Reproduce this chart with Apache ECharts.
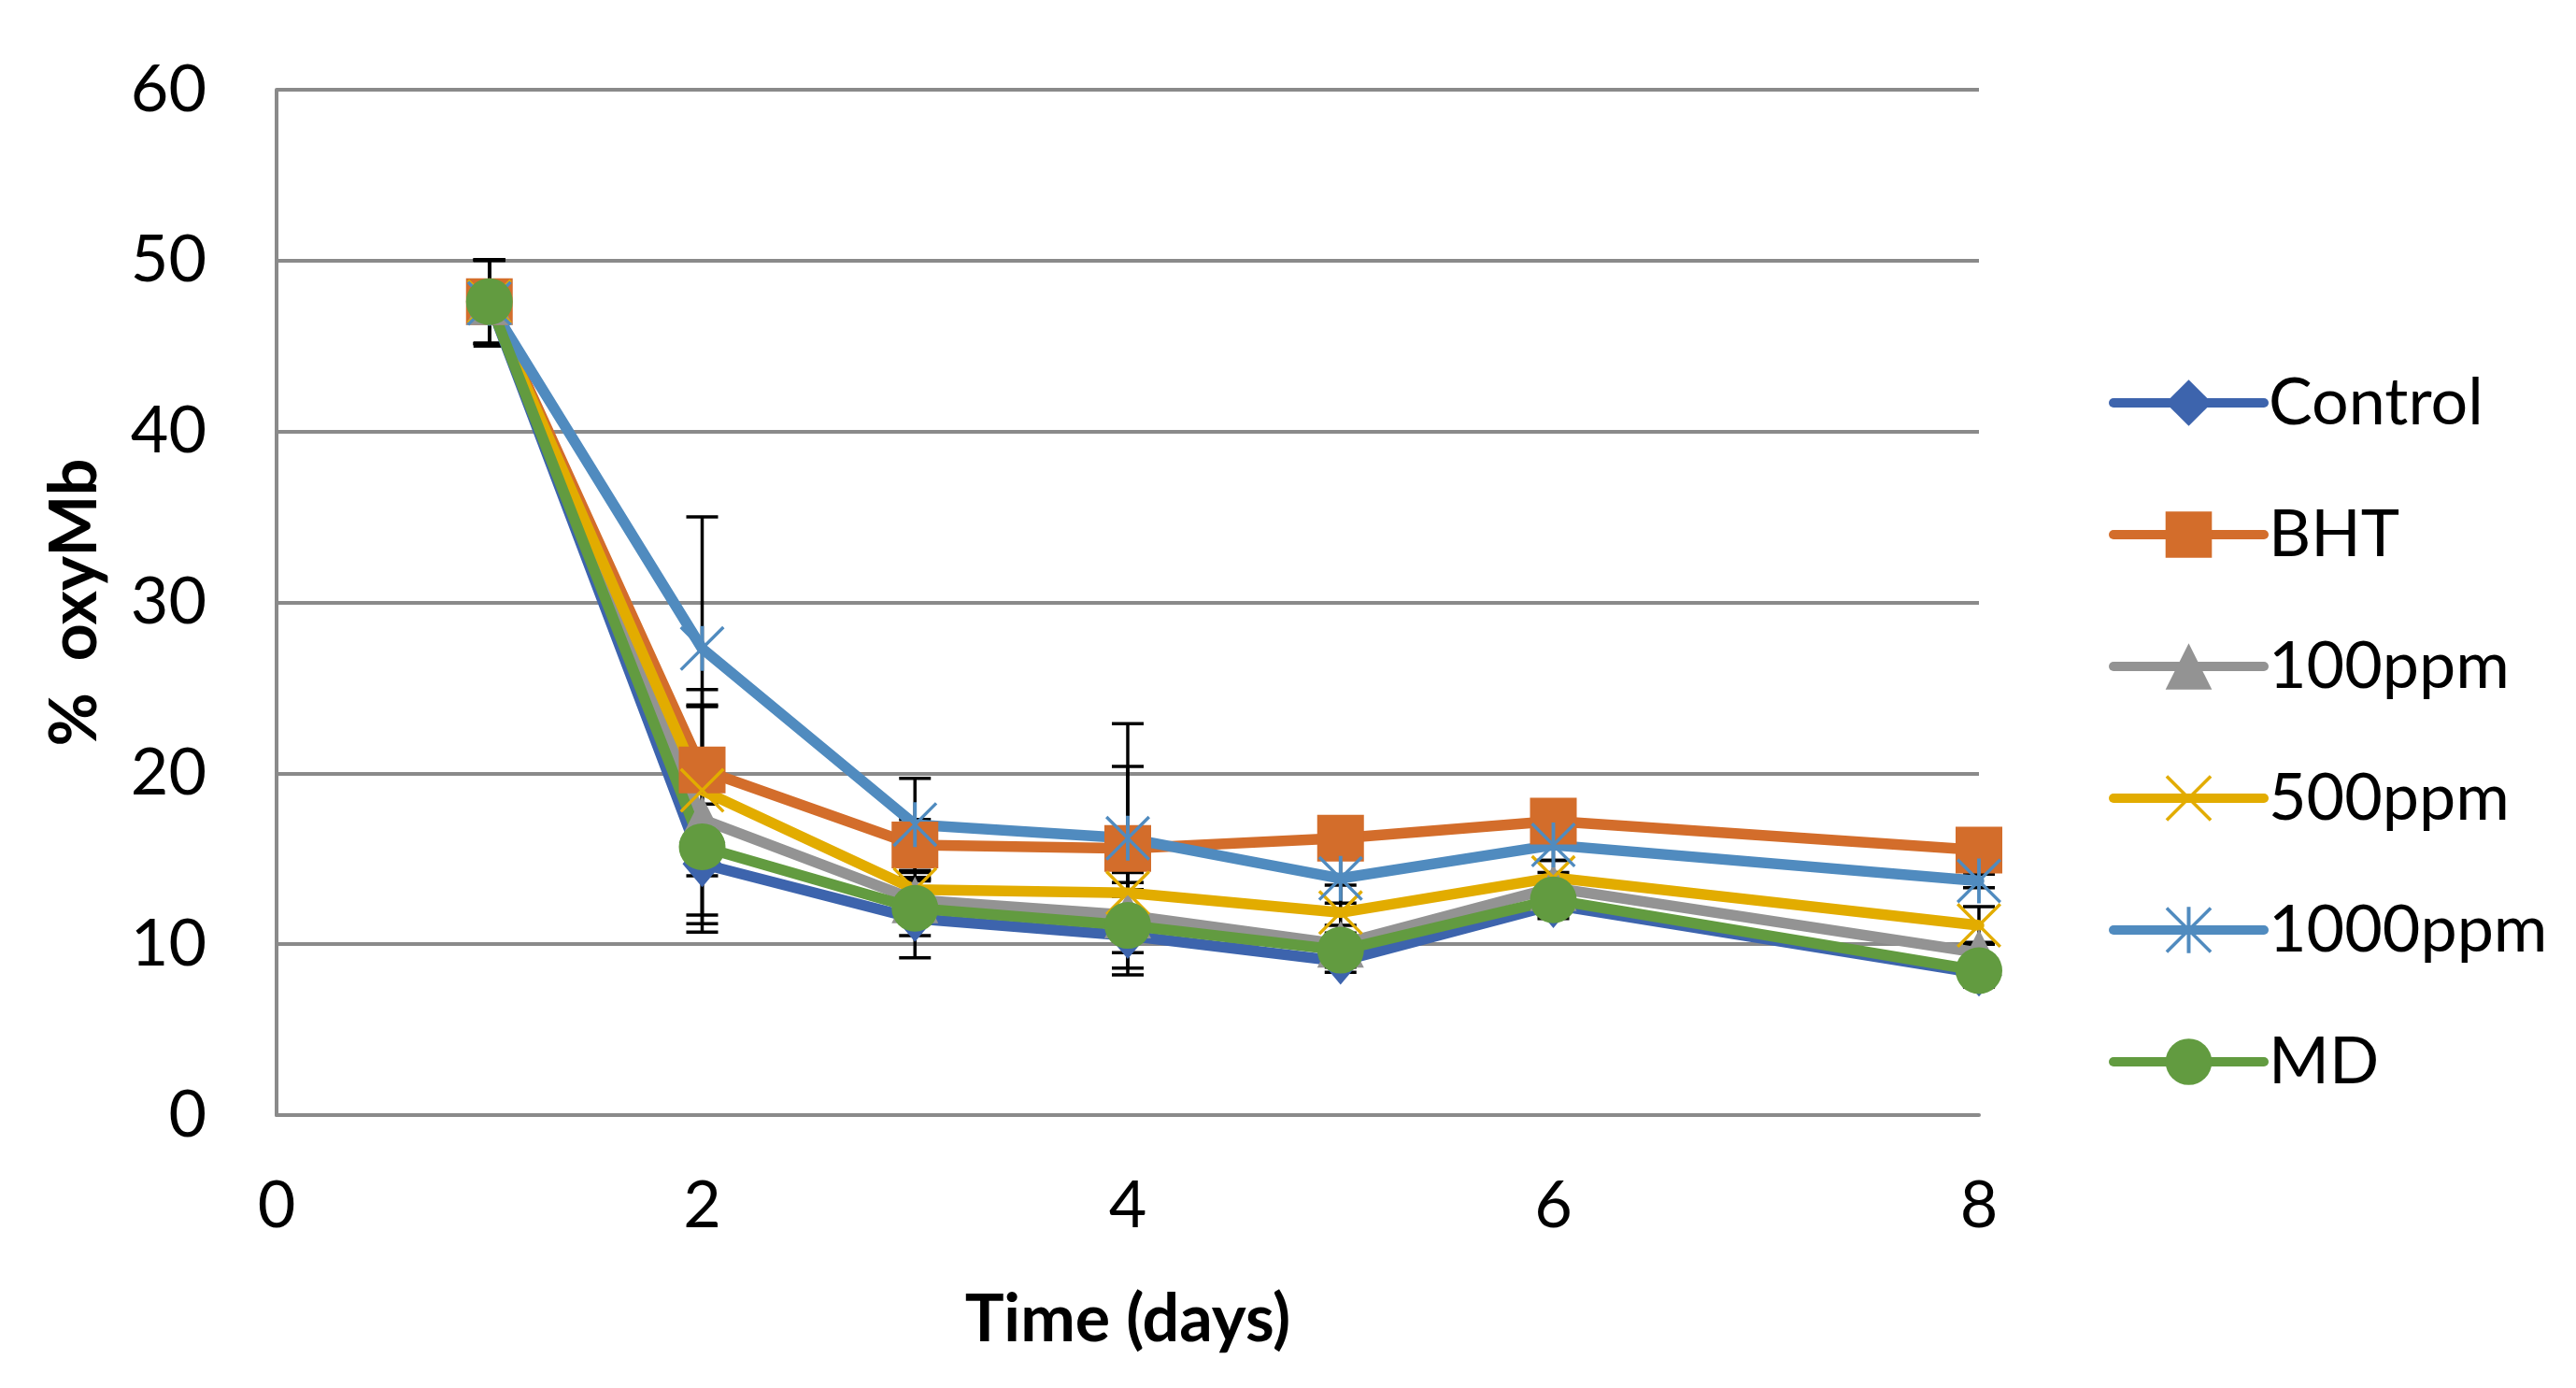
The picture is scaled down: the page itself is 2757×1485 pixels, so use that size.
<!DOCTYPE html>
<html>
<head>
<meta charset="utf-8">
<script src="https://cdn.jsdelivr.net/npm/echarts@6/dist/echarts.min.js"></script>
<style>
html,body{margin:0;padding:0;background:#fff;}
#chart{width:2757px;height:1485px;}
</style>
</head>
<body>
<div id="chart"></div>
<script>
// ---- data ----
const days = [1, 2, 3, 4, 5, 6, 8];
const seriesNames = ['Control', 'BHT', '100ppm', '500ppm', '1000ppm', 'MD'];
const control  = [47.6, 14.7, 11.5, 10.5, 9.0, 12.3, 8.3];
const bht      = [47.6, 20.2, 15.8, 15.6, 16.2, 17.2, 15.5];
const ppm100   = [47.6, 17.3, 12.6, 11.7, 10.0, 13.3, 9.5];
const ppm500   = [47.6, 19.0, 13.2, 13.0, 11.85, 13.9, 11.1];
const ppm1000  = [47.5, 27.3, 17.0, 16.2, 13.85, 15.8, 13.7];
const md       = [47.6, 15.7, 12.1, 11.1, 9.65, 12.6, 8.45];
// error bar half-widths
const errControl = [2.45, 3.5, 2.3, 2.3, 0.65, 0.8, 0.8];
const errBht     = [2.45, 4.7, 1.5, 4.8, 1.0, 1.0, 0.8];
const errPpm100  = [2.45, 6.6, 1.3, 1.5, 1.1, 0.9, 0.6];
const errPpm500  = [2.45, 5.0, 1.0, 1.2, 1.6, 1.0, 1.1];
const errPpm1000 = [2.5, 7.7, 2.7, 6.7, 1.45, 0.9, 0.4];
const errMd      = [2.45, 4.0, 1.6, 2.5, 1.0, 0.8, 0.8];
const xTicks = [0, 2, 4, 6, 8];
const yTicks = [0, 10, 20, 30, 40, 50, 60];

const values = [control, bht, ppm100, ppm500, ppm1000, md];
const errors = [errControl, errBht, errPpm100, errPpm500, errPpm1000, errMd];
const colors = ['#3D64AD', '#D36D2B', '#939393', '#E2AC00', '#508BBF', '#629B40'];

const X_PATH = 'path://M0,5 L5,0 L100,95 L95,100 Z M95,0 L100,5 L5,100 L0,95 Z';
const STAR_PATH = 'path://M0,5 L5,0 L100,95 L95,100 Z M95,0 L100,5 L5,100 L0,95 Z M46,0 L54,0 L54,100 L46,100 Z';
const symbols = ['diamond', 'rect', 'triangle', X_PATH, STAR_PATH, 'circle'];
const symbolSizes = [[42, 50], 50, 50, 48, 48, 50];

const FONT = 'Lato';

const lineSeries = seriesNames.map((name, i) => ({
  name: name,
  type: 'line',
  z: 3,
  data: days.map((d, j) => [d, values[i][j]]),
  symbol: symbols[i],
  symbolSize: symbolSizes[i],
  itemStyle: { color: colors[i] },
  lineStyle: { color: colors[i], width: 11.5, cap: 'round', join: 'round' },
  emphasis: { disabled: true },
  animation: false
}));

const errData = [];
values.forEach((vals, i) => {
  vals.forEach((v, j) => {
    errData.push([days[j], v - errors[i][j], v + errors[i][j]]);
  });
});

const errSeries = {
  type: 'custom',
  z: 1,
  silent: true,
  animation: false,
  data: errData,
  encode: { x: 0, y: [1, 2] },
  renderItem: function (params, api) {
    const x = api.value(0);
    const top = api.coord([x, api.value(2)]);
    const bot = api.coord([x, api.value(1)]);
    const hw = 17;
    const st = { stroke: '#000', lineWidth: 3.5 };
    return {
      type: 'group',
      children: [
        { type: 'line', shape: { x1: top[0], y1: top[1], x2: bot[0], y2: bot[1] }, style: st },
        { type: 'line', shape: { x1: top[0] - hw, y1: top[1], x2: top[0] + hw, y2: top[1] }, style: st },
        { type: 'line', shape: { x1: bot[0] - hw, y1: bot[1], x2: bot[0] + hw, y2: bot[1] }, style: st }
      ]
    };
  }
};

const chart = echarts.init(document.getElementById('chart'), null, { renderer: 'canvas' });
chart.setOption({
  backgroundColor: '#fff',
  animation: false,
  grid: { left: 296, right: 639, top: 96, bottom: 292 },
  xAxis: {
    type: 'value',
    min: xTicks[0], max: xTicks[xTicks.length - 1], interval: xTicks[1] - xTicks[0],
    axisLine: { show: true, lineStyle: { color: '#8A8A8A', width: 4 } },
    axisTick: { show: false },
    splitLine: { show: false },
    axisLabel: { fontFamily: FONT, fontSize: 70, color: '#000', margin: 62 },
    name: 'Time (days)',
    nameLocation: 'middle',
    nameGap: 184,
    nameTextStyle: { fontFamily: FONT, fontSize: 70, fontWeight: 'bold', color: '#000' }
  },
  yAxis: {
    type: 'value',
    min: yTicks[0], max: yTicks[yTicks.length - 1], interval: yTicks[1] - yTicks[0],
    axisLine: { show: true, lineStyle: { color: '#8A8A8A', width: 4 } },
    axisTick: { show: false },
    splitLine: { show: true, lineStyle: { color: '#8A8A8A', width: 4 } },
    axisLabel: { fontFamily: FONT, fontSize: 70, color: '#000', margin: 75 },
    name: '%  oxyMb',
    nameLocation: 'middle',
    nameGap: 181,
    nameTextStyle: { fontFamily: FONT, fontSize: 70, fontWeight: 'bold', color: '#000' }
  },
  legend: {
    orient: 'vertical',
    left: 2252,
    top: 391,
    itemWidth: 161,
    itemHeight: 62,
    itemGap: 71,
    data: seriesNames,
    lineStyle: { width: 10, cap: 'round' },
    textStyle: { fontFamily: FONT, fontSize: 70, color: '#000', padding: [0, 0, 0, 0], lineHeight: 62 },
    selectedMode: false
  },
  series: [errSeries].concat(lineSeries)
});
</script>
</body>
</html>
